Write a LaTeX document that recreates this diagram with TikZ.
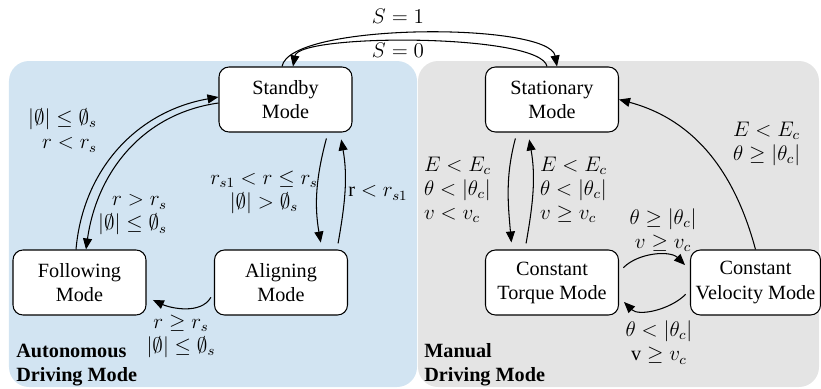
\documentclass[tikz,border=0pt]{standalone}
\usepackage{amsmath,amssymb}
\usepackage{fontspec}
\setmainfont{Liberation Serif}
\usepackage{xcolor}
\usepackage{tikz}
\usetikzlibrary{arrows.meta}
\definecolor{autoblue}{RGB}{210,228,242}
\definecolor{manualgray}{RGB}{228,228,228}

\begin{document}
\begin{tikzpicture}[
x=1cm,
y=1cm,
every node/.style={font=\fontsize{11.5}{13.7}\selectfont},
region/.style={rectangle,rounded corners=0.4cm,inner sep=0pt,minimum height=6.52cm},
modebox/.style={rectangle,rounded corners=0.2cm,draw,line width=0.6pt,fill=white,align=center,inner sep=2pt,minimum width=2.66cm,minimum height=1.3cm},
cond/.style={align=center,inner sep=1pt},
head/.style={font=\fontsize{11.5}{13.7}\selectfont\bfseries,align=left,inner sep=0pt},
arr/.style={-{Triangle[length=2.2mm,width=1.8mm]},line width=0.6pt},
garr/.style={arr,shorten <=3.5pt,shorten >=4pt}
]
\useasboundingbox (0,0) rectangle (16.42,-7.76);
\node[region,fill=autoblue,minimum width=8.16cm] (autoregion) at (4.26,-4.48) {};
\node[region,fill=manualgray,minimum width=8.02cm] (manualregion) at (12.37,-4.48) {};

\node[modebox] (standby) at (5.71,-1.99) {Standby\\Mode};
\node[modebox] (stationary) at (11.04,-1.99) {Stationary\\Mode};
\node[modebox] (following) at (1.59,-5.65) {Following\\Mode};
\node[modebox] (aligning) at (5.62,-5.65) {Aligning\\Mode};
\node[modebox] (torque) at (11.04,-5.65) {Constant\\Torque Mode};
\node[modebox,minimum width=2.6cm] (velocity) at (15.11,-5.65) {Constant\\Velocity Mode};

\draw[arr] ([xshift=-0.07cm]standby.north) to[out=80,in=100,looseness=0.42] ([xshift=0.1cm]stationary.north);
\draw[arr] ([xshift=-0.1cm]stationary.north) to[out=100,in=80,looseness=0.34] ([xshift=0.15cm]standby.north);
\node (s1) at (7.96,-0.32) {$S=1$};
\node (s0) at (7.96,-1.0) {$S=0$};

\draw[arr] ([xshift=-0.07cm]following.north) to[out=85,in=190] ([yshift=0.05cm]standby.west);
\draw[arr] ([yshift=-0.07cm]standby.west) to[out=188,in=82] ([xshift=0.13cm]following.north);
\node[cond,align=right,anchor=east] (fs) at (1.98,-2.61) {$|\emptyset|\le\emptyset_s$\\$r<r_s$};
\node[cond,align=right,anchor=east] (sf) at (3.38,-4.3) {$r>r_s$\\$|\emptyset|\le\emptyset_s$};

\draw[garr] ([xshift=0.85cm]standby.south) to[out=255,in=100] ([xshift=0.82cm]aligning.north);
\draw[garr] ([xshift=1.12cm]aligning.north) to[out=80,in=-80] ([xshift=1.09cm]standby.south);
\node[cond] (sa) at (5.28,-3.85) {$r_{s1}<r\le r_s$\\$|\emptyset|>\emptyset_s$};
\node[cond] (as) at (7.56,-3.86) {$\mathrm{r}<r_{s1}$};

\draw[garr] ([yshift=-0.19cm]aligning.west) to[out=240,in=-25] ([yshift=-0.29cm]following.east);
\node[cond] (af) at (3.62,-6.72) {$r\ge r_s$\\$|\emptyset|\le\emptyset_s$};

\draw[garr] ([xshift=-0.7cm]stationary.south) to[out=255,in=95] ([xshift=-0.8cm]torque.north);
\draw[garr] ([xshift=-0.54cm]torque.north) to[out=80,in=-80] ([xshift=-0.48cm]stationary.south);
\node[cond,align=left,anchor=west] (st) at (8.44,-3.8) {$E<E_c$\\$\theta<|\theta_c|$\\$v<v_c$};
\node[cond,align=left,anchor=west] (ts) at (10.76,-3.8) {$E<E_c$\\$\theta<|\theta_c|$\\$v\ge v_c$};

\draw[arr] (velocity.north) to[out=105,in=-15] (stationary.east);
\node[cond,align=left,anchor=west] (vs) at (14.62,-2.88) {$E<E_c$\\$\theta\ge|\theta_c|$};

\draw[garr] ([yshift=0.21cm]torque.east) to[out=45,in=135] ([yshift=0.25cm]velocity.west);
\draw[garr] ([yshift=-0.15cm]velocity.west) to[out=-135,in=-45] ([yshift=-0.29cm]torque.east);
\node[cond] (tv) at (13.26,-4.6) {$\theta\ge|\theta_c|$\\$v\ge v_c$};
\node[cond] (vt) at (13.18,-6.85) {$\theta<|\theta_c|$\\$\mathrm{v}\ge v_c$};

\node[head,anchor=west] (autolabel) at (0.32,-7.3) {Autonomous\\Driving Mode};
\node[head,anchor=west] (manuallabel) at (8.48,-7.3) {Manual\\Driving Mode};
\end{tikzpicture}
\end{document}
